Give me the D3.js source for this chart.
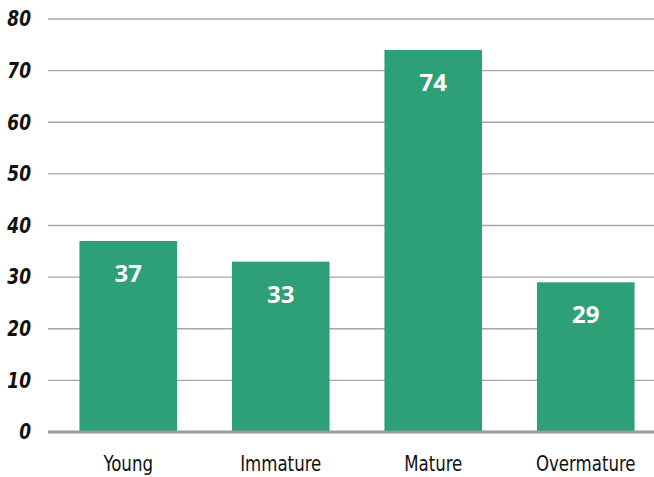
<!DOCTYPE html>
<html><head><meta charset="utf-8">
<script src="https://cdn.jsdelivr.net/npm/d3@7"></script>
<style>body{margin:0;background:#fff}svg{display:block}</style>
</head><body>
<script>
const categories = ["Young", "Immature", "Mature", "Overmature"];
const values = [37, 33, 74, 29];
const yTicks = [0, 10, 20, 30, 40, 50, 60, 70, 80];

const W = 654, H = 477;
const svg = d3.select("body").append("svg").attr("width", W).attr("height", H);
const y = d3.scaleLinear().domain([0, 80]).range([432, 19]);
const x = d3.scaleBand().domain(categories).range([52, 662]).paddingInner(0.36).paddingOuter(0.18);
const condensed = "'Liberation Sans Narrow','DejaVu Sans Condensed',sans-serif";

// grid
svg.append("g").selectAll("line").data(yTicks.filter(d => d > 0)).join("line")
  .attr("x1", 48).attr("x2", W).attr("y1", d => y(d)).attr("y2", d => y(d))
  .attr("stroke", "#a6a6a6").attr("stroke-width", 1.3);

// y labels
svg.append("g").selectAll("text").data(yTicks).join("text")
  .attr("transform", d => `translate(31,${y(d)}) scale(0.9,1)`)
  .attr("dy", "0.35em").attr("text-anchor", "end")
  .attr("font-family", condensed)
  .attr("font-weight", "bold").attr("font-style", "italic").attr("font-size", 21)
  .attr("fill", "#111").text(d => d);

// bars
svg.append("g").selectAll("rect").data(values).join("rect")
  .attr("x", (d, i) => x(categories[i])).attr("width", x.bandwidth())
  .attr("y", d => y(d)).attr("height", d => y(0) - y(d))
  .attr("fill", "#2da078");

// baseline
svg.append("line").attr("x1", 48).attr("x2", W).attr("y1", y(0)).attr("y2", y(0))
  .attr("stroke", "#9a9a9a").attr("stroke-width", 3);

// value labels
svg.append("g").selectAll("text").data(values).join("text")
  .attr("x", (d, i) => x(categories[i]) + x.bandwidth() / 2).attr("y", d => y(d) + 41)
  .attr("text-anchor", "middle").attr("font-family", "'Open Sans',sans-serif")
  .attr("font-weight", "bold").attr("font-size", 24).attr("fill", "#fff").text(d => d);

// category labels
svg.append("g").selectAll("text").data(categories).join("text")
  .attr("transform", d => `translate(${x(d) + x.bandwidth() / 2},471) scale(0.84,1)`)
  .attr("text-anchor", "middle")
  .attr("font-family", condensed)
  .attr("font-size", 22).attr("fill", "#111").text(d => d);
</script>
</body></html>
